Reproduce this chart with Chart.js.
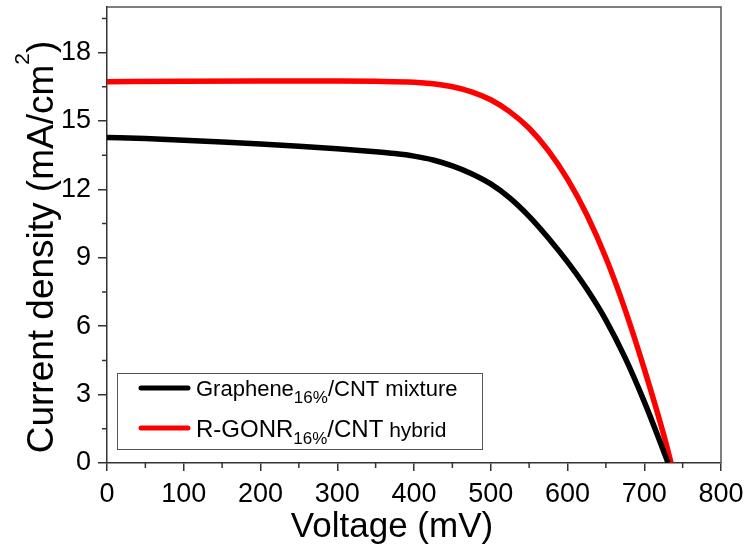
<!DOCTYPE html>
<html><head><meta charset="utf-8">
<script src="https://cdn.jsdelivr.net/npm/chart.js@4.4.1/dist/chart.umd.min.js"></script>
<style>html,body{margin:0;padding:0;background:#fff;}</style>
</head><body>
<canvas id="c" width="750" height="552"></canvas>
<script>
// ---- data ----
const voltageBlack = [0,50,100,150,200,250,300,350,375,400,425,450,475,500,525,550,575,600,625,650,675,700,725,731];
const currentBlack = [14.28,14.23,14.16,14.08,13.99,13.89,13.78,13.65,13.57,13.46,13.29,13.03,12.69,12.24,11.62,10.82,9.87,8.82,7.64,6.27,4.62,2.69,0.54,0];
const voltageRed = [0,100,200,300,350,400,425,450,475,500,525,550,575,600,625,650,675,700,725,735];
const currentRed = [16.72,16.74,16.75,16.75,16.74,16.70,16.63,16.50,16.28,15.93,15.40,14.68,13.70,12.45,10.90,9.00,6.73,4.13,1.28,0];
const xTicks = [0,100,200,300,400,500,600,700,800];
const xMinorTicks = [50,150,250,350,450,550,650,750];
const yTicks = [0,3,6,9,12,15,18];
const yMinorTicks = [1.5,4.5,7.5,10.5,13.5,16.5,19.5];
const seriesMain = ['Graphene','R-GONR'];
const seriesSub = ['16%','16%'];
const seriesTail = ['/CNT mixture','/CNT hybrid'];
const xTitle = 'Voltage (mV)';
const yTitleMain = 'Current density (mA/cm';
const yTitleSup = '2';
const yTitleEnd = ')';

const FF = "'Liberation Sans', Arial, sans-serif";
const colors = ['#000000','#ff0000'];

const decor = {
  id:'decor',
  afterDraw(chart){
    const c = chart.ctx, a = chart.chartArea;
    const xs = chart.scales.x, ys = chart.scales.y;
    c.save();
    // top/right frame
    c.strokeStyle = '#555'; c.lineWidth = 1.5;
    c.beginPath(); c.moveTo(a.left, a.top); c.lineTo(a.right, a.top); c.lineTo(a.right, a.bottom); c.stroke();
    // minor ticks
    c.strokeStyle = '#333'; c.lineWidth = 1.5;
    c.beginPath();
    xMinorTicks.forEach(v=>{const p=xs.getPixelForValue(v); c.moveTo(p,a.bottom); c.lineTo(p,a.bottom+5);});
    yMinorTicks.forEach(v=>{const p=ys.getPixelForValue(v); c.moveTo(a.left,p); c.lineTo(a.left-5,p);});
    c.stroke();
    // x title
    c.fillStyle = '#000';
    c.font = '35px ' + FF; c.textAlign='center'; c.textBaseline='alphabetic';
    c.fillText(xTitle, 392, 537);
    // y title
    c.save();
    c.translate(53, 247); c.rotate(-Math.PI/2);
    c.textAlign='left';
    c.font = '37px ' + FF; const w1 = c.measureText(yTitleMain).width; const w3 = c.measureText(yTitleEnd).width;
    c.font = '21px ' + FF; const w2 = c.measureText(yTitleSup).width;
    let x0 = -(w1+w2+w3)/2;
    c.font = '37px ' + FF; c.fillText(yTitleMain, x0, 0);
    c.font = '21px ' + FF; c.fillText(yTitleSup, x0+w1, -24);
    c.font = '37px ' + FF; c.fillText(yTitleEnd, x0+w1+w2, 0);
    c.restore();
    // legend
    c.strokeStyle = '#555'; c.lineWidth = 1;
    c.strokeRect(117.5, 373.5, 365, 76);
    const rows = [388, 428];
    rows.forEach((ry,i)=>{
      c.strokeStyle = colors[i]; c.lineWidth = 5; c.lineCap='round';
      c.beginPath(); c.moveTo(141, ry); c.lineTo(188, ry); c.stroke();
      c.fillStyle = '#000'; c.textAlign='left';
      const big = i===0 ? 22 : 24;
      const base = ry + (i===0 ? 8 : 9);
      let x = 196;
      c.font = big+'px '+FF; c.fillText(seriesMain[i], x, base); x += c.measureText(seriesMain[i]).width;
      c.font = '17px '+FF; c.fillText(seriesSub[i], x, base+7); x += c.measureText(seriesSub[i]).width;
      const parts = seriesTail[i].split(' ');
      if (i===0){
        c.font = big+'px '+FF; c.fillText(seriesTail[i], x, base);
      } else {
        c.font = big+'px '+FF; c.fillText(parts[0], x, base); x += c.measureText(parts[0]).width;
        c.font = '21px '+FF; c.fillText(' '+parts.slice(1).join(' '), x, base);
      }
    });
    c.restore();
  }
};

new Chart(document.getElementById('c'), {
  type:'line',
  data:{datasets:[
    {label: seriesMain[0]+seriesSub[0]+seriesTail[0], data: voltageBlack.map((v,i)=>({x:v,y:currentBlack[i]})),
     borderColor:colors[0], borderWidth:5.5, pointRadius:0, cubicInterpolationMode:'monotone', fill:false},
    {label: seriesMain[1]+seriesSub[1]+seriesTail[1], data: voltageRed.map((v,i)=>({x:v,y:currentRed[i]})),
     borderColor:colors[1], borderWidth:5.5, pointRadius:0, cubicInterpolationMode:'monotone', fill:false}
  ]},
  options:{
    responsive:false, animation:false, devicePixelRatio:1,
    layout:{padding:{top:7,right:29,left:0,bottom:0}},
    plugins:{legend:{display:false}, tooltip:{enabled:false}},
    scales:{
      x:{type:'linear', min:0, max:800,
        afterBuildTicks: s=>{ s.ticks = xTicks.map(v=>({value:v})); },
        afterFit: s=>{ s.height = 89; s.paddingLeft = 0; s.paddingRight = 0; },
        grid:{display:true, drawOnChartArea:false, drawTicks:true, tickLength:8, color:'#333', lineWidth:1.5},
        border:{display:true, color:'#333', width:1.5},
        ticks:{font:{family:FF, size:27}, color:'#000', padding:7, maxRotation:0, autoSkip:false}},
      y:{type:'linear', min:0, max:20,
        afterBuildTicks: s=>{ s.ticks = yTicks.map(v=>({value:v})); },
        afterFit: s=>{ s.width = 107; s.paddingTop = 0; s.paddingBottom = 0; },
        grid:{display:true, drawOnChartArea:false, drawTicks:true, tickLength:9, color:'#333', lineWidth:1.5},
        border:{display:true, color:'#333', width:1.5},
        ticks:{font:{family:FF, size:27}, color:'#000', padding:7, autoSkip:false}}
    }
  },
  plugins:[decor]
});
</script>
</body></html>
